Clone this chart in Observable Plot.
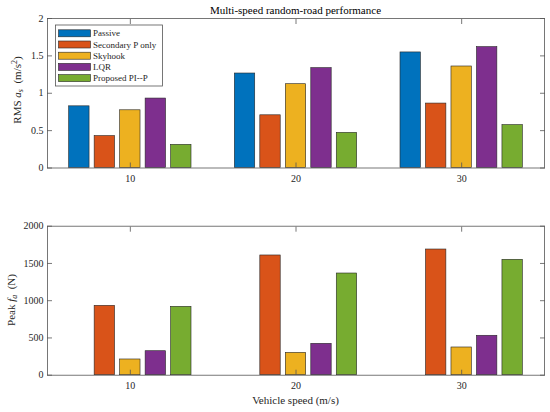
<!DOCTYPE html>
<html><head><meta charset="utf-8">
<script src="https://cdn.jsdelivr.net/npm/d3@7"></script>
<script src="https://cdn.jsdelivr.net/npm/@observablehq/plot@0.6"></script>
<style>
body{margin:0;background:#fff;font-family:"Liberation Serif",serif;}
#chart{width:550px;}
#chart svg{display:block;font-family:"Liberation Serif","DejaVu Serif",serif !important;}
#chart svg text{font-family:"Liberation Serif","DejaVu Serif",serif;}
</style></head><body><div id="chart"></div>
<script>
const speeds = [10, 20, 30];
const methods = ["Passive", "Secondary P only", "Skyhook", "LQR", "Proposed PI--P"];
const colors = ["#0072BD", "#D95319", "#EDB120", "#7E2F8E", "#77AC30"];

// RMS sprung-mass acceleration (m/s^2)
const rmsPassive   = [0.825, 1.264, 1.546];
const rmsSecondary = [0.427, 0.705, 0.862];
const rmsSkyhook   = [0.772, 1.121, 1.358];
const rmsLQR       = [0.929, 1.336, 1.617];
const rmsPIP       = [0.310, 0.470, 0.574];

// Peak actuator force (N)
const peakPassive   = [0, 0, 0];
const peakSecondary = [931, 1607, 1687];
const peakSkyhook   = [211, 300, 372];
const peakLQR       = [322, 421, 529];
const peakPIP       = [918, 1365, 1549];

const yTicksTop = [0, 0.5, 1, 1.5, 2];
const yTicksBottom = [0, 500, 1000, 1500, 2000];

function table(series) {
  return series.flatMap((vals, i) => vals.map((v, j) => ({method: methods[i], idx: i, speed: speeds[j], value: v})));
}
const rmsData = table([rmsPassive, rmsSecondary, rmsSkyhook, rmsLQR, rmsPIP]);
const peakData = table([peakPassive, peakSecondary, peakSkyhook, peakLQR, peakPIP]);

// MATLAB grouped-bar geometry
const nS = methods.length;
const groupW = Math.min(0.8, nS / (nS + 1.5)) * 10;
const step = groupW / nS;
const barW = 0.8 * step;
const bx1 = d => d.speed + (d.idx - (nS - 1) / 2) * step - barW / 2;
const bx2 = d => bx1(d) + barW;

const ink = "#262626";
const serif = '"Liberation Serif", "DejaVu Serif", serif';
const noText = () => "";

function panel({data, yDomain, yTicks, height, marginTop, marginBottom}) {
  return Plot.plot({
    width: 550, height, marginLeft: 47, marginRight: 6, marginTop, marginBottom,
    style: {fontFamily: serif, fontSize: "10px", color: ink, background: "white", overflow: "visible"},
    x: {domain: [5, 35], label: null},
    y: {domain: yDomain, label: null},
    color: {domain: methods, range: colors},
    marks: [
      Plot.rect(data, {x1: bx1, x2: bx2, y1: 0, y2: "value", fill: "method", stroke: ink, strokeWidth: 0.6}),
      Plot.frame({stroke: "#555", strokeWidth: 0.8}),
      Plot.axisX({anchor: "bottom", ticks: speeds, tickSize: 0, tickPadding: 7, label: null, tickFormat: d => String(d)}),
      Plot.axisX({anchor: "bottom", ticks: speeds, tickSize: -5, tickFormat: noText, label: null, stroke: "#555", strokeWidth: 0.8}),
      Plot.axisX({anchor: "top", ticks: speeds, tickSize: -5, tickFormat: noText, label: null, stroke: "#555", strokeWidth: 0.8}),
      Plot.axisY({anchor: "left", ticks: yTicks, tickSize: 0, tickPadding: 4, label: null, tickFormat: d => String(d)}),
      Plot.axisY({anchor: "left", ticks: yTicks, tickSize: -5, tickFormat: noText, label: null, stroke: "#555", strokeWidth: 0.8}),
      Plot.axisY({anchor: "right", ticks: yTicks, tickSize: -5, tickFormat: noText, label: null, stroke: "#555", strokeWidth: 0.8})
    ]
  });
}

const topPlot = panel({data: rmsData, yDomain: [0, 2], yTicks: yTicksTop, height: 200, marginTop: 18, marginBottom: 32.5});
const bottomPlot = panel({data: peakData, yDomain: [0, 2000], yTicks: yTicksBottom, height: 212, marginTop: 25.7, marginBottom: 37.3});
document.getElementById("chart").append(topPlot, bottomPlot);

// Title
const sTop = d3.select(topPlot);
sTop.append("text").attr("x", 295.5).attr("y", 14).attr("text-anchor", "middle").attr("font-family", serif)
  .attr("font-size", 11).attr("fill", "#000").text("Multi-speed random-road performance");

// Y label top: RMS a_s (m/s^2)
const yl1 = sTop.append("text").attr("transform", "translate(21,90) rotate(-90)").attr("text-anchor", "middle")
  .attr("font-family", serif).attr("font-size", 11).attr("fill", ink);
yl1.append("tspan").text("RMS ");
yl1.append("tspan").attr("font-style", "italic").text("a");
yl1.append("tspan").attr("font-style", "italic").attr("font-size", 8).attr("dy", 2).text("s");
yl1.append("tspan").attr("dy", -2).text("\u2002(m/s");
yl1.append("tspan").attr("font-size", 8).attr("dy", -4).text("2");
yl1.append("tspan").attr("dy", 4).text(")");

// Legend
const leg = sTop.append("g").attr("font-size", 9).attr("fill", ink).attr("font-family", serif);
leg.append("rect").attr("x", 55.5).attr("y", 25).attr("width", 107).attr("height", 61)
  .attr("fill", "white").attr("stroke", "#555").attr("stroke-width", 0.8);
methods.forEach((m, i) => {
  const cy = 33.3 + i * 11.2;
  leg.append("rect").attr("x", 58.5).attr("y", cy - 3.5).attr("width", 32).attr("height", 7)
    .attr("fill", colors[i]).attr("stroke", ink).attr("stroke-width", 0.6);
  leg.append("text").attr("x", 93).attr("y", cy).attr("dy", "0.35em").attr("text-anchor", "start").text(m);
});

// Bottom labels
const sBot = d3.select(bottomPlot);
const yl2 = sBot.append("text").attr("transform", "translate(15,100) rotate(-90)").attr("text-anchor", "middle")
  .attr("font-family", serif).attr("font-size", 11).attr("fill", ink);
yl2.append("tspan").text("Peak ");
yl2.append("tspan").attr("font-style", "italic").text("f");
yl2.append("tspan").attr("font-style", "italic").attr("font-size", 8).attr("dy", 2).text("a");
yl2.append("tspan").attr("dy", -2).text("\u2002(N)");

sBot.append("text").attr("x", 295.5).attr("y", 204).attr("text-anchor", "middle").attr("font-family", serif)
  .attr("font-size", 11).attr("fill", ink).text("Vehicle speed (m/s)");
</script></body></html>
